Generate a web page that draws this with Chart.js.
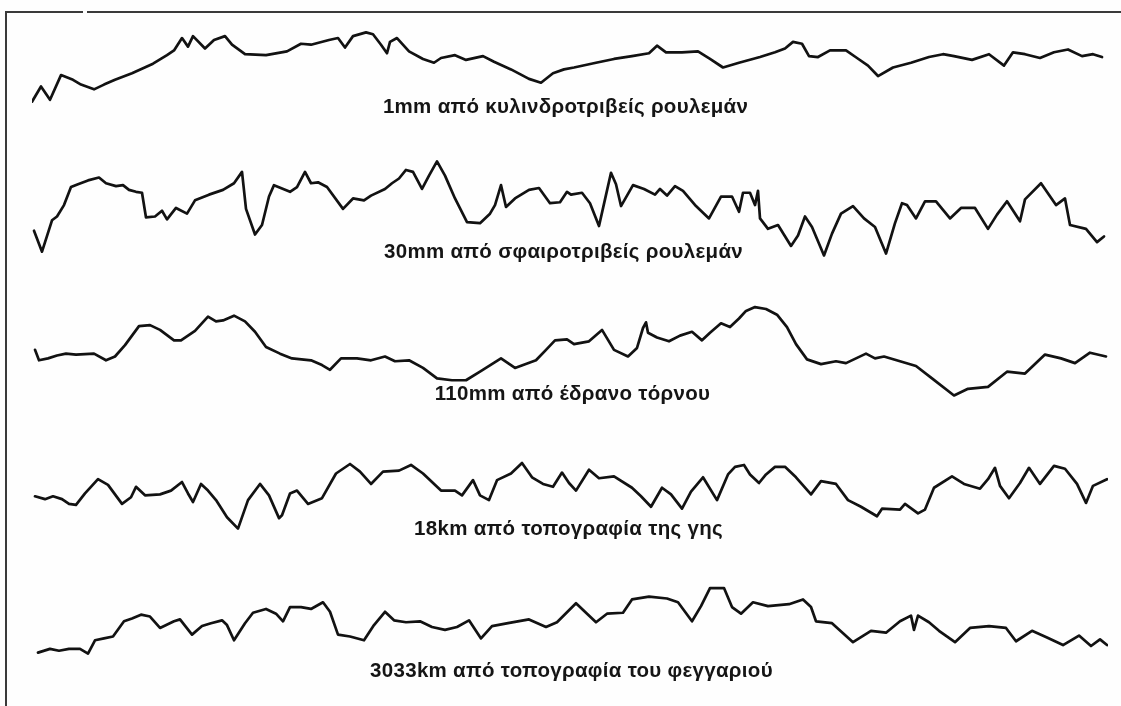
<!DOCTYPE html>
<html>
<head>
<meta charset="utf-8">
<script src="https://cdn.jsdelivr.net/npm/chart.js@4.4.0/dist/chart.umd.min.js"></script>
<style>
html, body { margin: 0; padding: 0; background: #fff; }
#page { position: relative; width: 1121px; height: 706px; overflow: hidden; background: #fefefe; }
#frame { position: absolute; left: 5px; top: 11px; right: 0; bottom: 0; border-left: 2px solid #3a3a3a; border-top: 2px solid #3a3a3a; }
#gap { position: absolute; left: 83px; top: 10px; width: 4px; height: 4px; background: #fefefe; }
.panel { position: absolute; left: 32px; }
.label { position: absolute; width: 1121px; text-align: center; font: bold 20.5px "Liberation Sans", Arial, sans-serif; letter-spacing: 0.3px; color: #151515; line-height: 20px; white-space: nowrap; }
</style>
</head>
<body>
<div id="page">
  <div id="frame"></div>
  <div id="gap"></div>
  <canvas id="prof1" class="panel" width="1076" height="100" style="top:15px"></canvas>
  <canvas id="prof2" class="panel" width="1076" height="120" style="top:144px"></canvas>
  <canvas id="prof3" class="panel" width="1076" height="115" style="top:289px"></canvas>
  <canvas id="prof4" class="panel" width="1076" height="95" style="top:445px"></canvas>
  <canvas id="prof5" class="panel" width="1076" height="95" style="top:570px"></canvas>
  <div class="label" id="lab1" style="left:5px; top:96px"></div>
  <div class="label" id="lab2" style="left:3px; top:241px"></div>
  <div class="label" id="lab3" style="left:12px; top:383px"></div>
  <div class="label" id="lab4" style="left:8px; top:518px"></div>
  <div class="label" id="lab5" style="left:11px; top:660px"></div>
</div>
<script>
// τίτλοι προφίλ
const profileNames = ['1mm από κυλινδροτριβείς ρουλεμάν', '30mm από σφαιροτριβείς ρουλεμάν',
    '110mm από έδρανο τόρνου', '18km από τοπογραφία της γης', '3033km από τοπογραφία του φεγγαριού'];

// 1mm - κυλινδροτριβείς
const dist1 = [0,9,18,29,41,49,62,72,83,100,121,135,142,150,156,161,173,182,193,200,213,234,255,269,279,297,306,313,321,334,341,349,355,358,365,377,391,402,409,423,434,451,462,479,497,509,521,532,542,564,582,600,617,625,634,650,666,678,691,707,728,743,753,761,770,777,786,798,814,825,836,846,861,879,897,911,922,940,957,972,981,993,1008,1022,1036,1050,1061,1070];
const prof1 = [14,30,16,42,37,32,27,32,37,44,54,63,68,81,72,83,70,79,83,74,64,63,67,75,74,79,81,71,83,87,85,74,65,77,81,67,59,55,60,63,58,62,56,48,38,34,44,48,50,55,59,62,65,73,66,66,67,59,50,55,61,66,70,77,75,62,61,68,68,60,52,41,50,55,61,64,62,58,64,52,66,64,60,66,69,62,64,61];

// 30mm - σφαιροτριβείς
const dist2 = [2,10,20,25,32,39,46,56,67,74,84,91,97,104,110,114,123,130,135,144,155,163,177,191,202,210,214,223,230,237,242,258,265,273,279,286,295,311,321,332,339,353,360,367,374,381,390,397,405,413,423,435,448,458,463,469,474,483,497,507,518,528,535,539,550,558,567,573,579,584,589,601,612,623,628,635,643,651,664,677,689,700,707,711,718,723,726,728,736,746,759,766,773,780,792,800,809,821,832,843,854,863,870,875,884,893,904,918,929,943,956,965,975,988,993,1009,1024,1033,1038,1054,1065,1072];
const prof2 = [35,13,46,50,62,81,84,88,91,85,82,83,78,76,75,49,50,56,47,59,53,67,73,78,85,97,58,31,41,71,83,76,81,97,85,86,81,58,69,67,72,79,85,90,99,97,79,93,108,93,69,44,43,53,62,83,60,69,78,80,64,65,76,73,75,64,40,68,96,84,61,83,79,73,79,72,82,77,61,48,71,71,55,75,75,62,77,48,37,41,19,30,50,39,9,32,53,61,48,39,11,43,64,62,48,66,66,48,59,59,37,52,66,45,68,85,62,69,41,37,23,29];

// 110mm - έδρανο τόρνου
const dist3 = [3,7,16,25,34,44,62,74,83,93,107,118,128,142,149,163,176,184,191,202,213,223,234,248,260,279,290,298,309,325,339,353,363,377,391,405,420,434,448,469,483,504,514,523,535,542,557,570,582,596,605,611,614,616,625,637,648,660,670,678,689,698,707,714,723,734,745,755,764,775,789,804,814,834,843,852,868,884,900,922,936,956,975,993,1013,1029,1043,1058,1074];
const prof3 = [57,46,48,51,53,52,53,46,50,62,82,83,78,67,67,77,92,87,88,93,87,76,60,53,48,46,41,36,48,48,46,50,45,46,38,27,25,25,34,48,38,46,57,67,68,63,66,78,57,50,59,80,86,75,70,66,72,76,67,75,85,81,90,98,102,100,94,81,63,47,42,45,43,53,48,50,45,40,27,9,16,18,34,32,52,48,43,54,50];

// 18km - γη
const dist4 = [3,13,21,30,37,44,53,66,76,90,99,104,113,128,139,150,156,161,169,176,184,195,206,216,228,237,247,250,258,265,276,290,304,318,328,339,351,367,379,391,409,423,430,441,448,457,465,479,490,500,511,521,530,537,544,557,567,582,600,609,619,630,639,650,659,671,685,696,703,712,718,727,734,743,753,764,779,789,804,816,829,845,850,868,873,886,893,902,920,932,948,956,963,968,977,988,997,1008,1022,1033,1045,1054,1061,1075];
const prof4 = [46,43,46,43,38,37,49,64,58,38,45,56,47,48,52,61,49,40,59,52,42,24,12,42,59,47,23,26,49,52,38,44,70,80,72,59,72,73,79,70,52,52,47,63,47,42,63,70,81,66,59,56,71,60,52,74,65,67,55,46,35,55,48,33,51,66,42,69,77,79,69,60,69,77,77,66,48,62,59,42,35,25,33,32,38,28,32,55,67,59,54,64,76,57,44,60,76,59,78,75,59,39,57,64];

// 3033km - φεγγάρι
const dist5 = [6,18,27,37,48,56,63,72,81,92,100,109,118,128,142,148,160,170,179,190,195,202,213,221,234,244,251,258,269,279,291,298,306,318,332,342,353,362,374,388,400,413,425,437,449,460,476,497,514,525,544,564,575,591,600,617,635,646,660,669,678,692,700,709,721,736,757,771,779,784,800,821,839,854,868,879,882,886,897,907,923,938,957,974,984,1000,1015,1031,1047,1059,1068,1075];
const prof5 = [13,17,15,17,17,12,26,28,30,46,49,53,51,39,46,48,32,41,44,47,42,26,44,55,59,54,46,61,61,59,66,56,32,30,26,42,56,47,45,46,40,37,40,47,28,41,44,48,40,45,65,45,54,55,69,72,70,66,46,62,81,81,61,54,66,62,64,69,61,46,44,24,36,34,46,52,37,52,45,36,24,39,41,39,25,36,29,21,31,20,27,21];

function drawProfile(id, dist, prof) {
    const canvas = document.getElementById(id);
    new Chart(canvas.getContext('2d'), {
        type: 'line',
        data: {
            datasets: [{
                data: dist.map((d, i) => ({ x: d, y: prof[i] })),
                borderColor: '#121212',
                borderWidth: 2.7,
                borderJoinStyle: 'round',
                borderCapStyle: 'round',
                pointRadius: 0,
                tension: 0,
                fill: false,
                clip: false
            }]
        },
        options: {
            responsive: false,
            animation: false,
            layout: { padding: 0 },
            plugins: { legend: { display: false }, tooltip: { enabled: false } },
            scales: {
                x: { type: 'linear', display: false, min: 0, max: canvas.width },
                // λίγο συμπιεσμένο κατακόρυφα
                y: { display: false, min: 0, max: canvas.height / 0.95 }
            }
        }
    });
}

document.addEventListener('DOMContentLoaded', function () {
    drawProfile('prof1', dist1, prof1);
    drawProfile('prof2', dist2, prof2);
    drawProfile('prof3', dist3, prof3);
    drawProfile('prof4', dist4, prof4);
    drawProfile('prof5', dist5, prof5);
    profileNames.forEach((name, i) => {
        document.getElementById('lab' + (i + 1)).textContent = name;
    });
});
</script>
</body>
</html>
